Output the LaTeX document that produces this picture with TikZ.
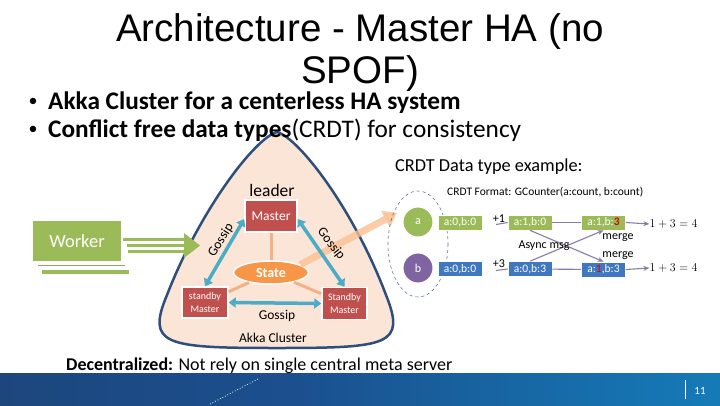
\documentclass[tikz,border=0pt]{standalone}
\usepackage{fontspec}
\setmainfont{Carlito}
\newfontfamily\titlefont{Liberation Sans}
\usetikzlibrary{arrows.meta,shapes.geometric}
\definecolor{mred}{HTML}{C0504D}
\definecolor{morange}{HTML}{F79646}
\definecolor{lorange}{HTML}{F4B183}
\definecolor{borange}{HTML}{FAC090}
\definecolor{gteal}{HTML}{4BACC6}
\definecolor{peach}{HTML}{FBE5D6}
\definecolor{blobline}{HTML}{2E4F7C}
\definecolor{wgreen}{HTML}{9BBB59}
\definecolor{cblue}{HTML}{3F78C0}
\definecolor{cpurple}{HTML}{8064A2}
\definecolor{pline}{HTML}{8A7CA8}
\definecolor{barL}{HTML}{1F3B68}
\definecolor{barM}{HTML}{1B4F8E}
\definecolor{barR}{HTML}{0FA0DA}
\pgfdeclarehorizontalshading{barshade}{100bp}{color(0bp)=(barL); color(45bp)=(barM); color(100bp)=(barR)}
\tikzset{
  mbox/.style={rectangle, fill=mred, draw=white, line width=1.5pt, text=white, inner sep=0pt, font=\fontsize{13.5}{15}\selectfont},
  gos/.style={gteal, line width=3.5pt, {Triangle[width=10pt,length=7pt]}-{Triangle[width=10pt,length=7pt]}},
  olink/.style={lorange, line width=3pt},
  gtext/.style={font=\fontsize{13.5}{15}\selectfont, inner sep=1pt},
  cbox/.style={rectangle, minimum width=44pt, minimum height=15pt, inner sep=0pt, text=white, font=\fontsize{11.5}{13}\selectfont, draw=white, line width=0.6pt},
  pl/.style={pline, line width=1.1pt},
  pla/.style={pline, line width=1.1pt, -{Stealth[length=6pt,width=5pt]}},
  ctext/.style={font=\fontsize{12}{13}\selectfont, inner sep=0pt},
}
\begin{document}
\begin{tikzpicture}[x=1pt,y=-1pt]
\useasboundingbox (0,0) rectangle (720,405);
\fill[white] (0,0) rectangle (720,405);
% bottom bar
\shade[shading=barshade] (0,373) rectangle (720,405);
\draw[white, line width=0.8pt, dotted] (210,404) -- (258,379);
\draw[white, line width=0.6pt] (685,380) -- (685,399);
\node[text=white, font=\fontsize{11}{13}\selectfont] (pg) at (700,391) {11};
% title
\node[font=\titlefont\fontsize{38.5}{40}\selectfont, anchor=base, inner sep=0pt] (t1) at (360,41.5) {Architecture - Master HA (no};
\node[font=\titlefont\fontsize{38.5}{40}\selectfont, anchor=base, inner sep=0pt] (t2) at (360,83) {SPOF)};
% cluster blob
\draw[fill=peach, draw=blobline, line width=2.5pt] (277,132) .. controls (255,138) and (200,210) .. (167,295) .. controls (146,345) and (165,348) .. (277,348) .. controls (389,348) and (406,345) .. (386,295) .. controls (354,210) and (299,138) .. (277,132) -- cycle;
% bullets
\node[font=\fontsize{18}{20}\selectfont, inner sep=0pt] (b1d) at (33,102) {•};
\node[font=\bfseries\fontsize{25.3}{27}\selectfont, anchor=base west, inner sep=0pt] (b1) at (48,109) {Akka Cluster for a centerless HA system};
\node[font=\fontsize{18}{20}\selectfont, inner sep=0pt] (b2d) at (33,130) {•};
\node[font=\fontsize{25.3}{27}\selectfont, anchor=base west, inner sep=0pt] (b2) at (48,137) {\textbf{Conflict free data types}(CRDT) for consistency};
% state and big orange arrow
\node[ellipse, fill=morange, draw=white, line width=1.5pt, minimum width=75pt, minimum height=23pt, inner sep=0pt, text=white, font=\bfseries\fontsize{14}{16}\selectfont] (st) at (271,272.5) {State};
\coordinate (oa) at (397,213);
\draw[borange, opacity=0.8, line width=7pt, -{Triangle[width=18pt,length=13pt]}] (st.15) -- (oa);
% masters
\node[font=\fontsize{17.5}{19}\selectfont, inner sep=0pt] (ld) at (272,190) {leader};
\node[mbox, minimum width=52pt, minimum height=32pt] (m) at (271,216) {Master};
\node[mbox, minimum width=46pt, minimum height=31pt, align=center, font=\fontsize{10}{13}\selectfont] (sb1) at (205,302.5) {standby\\Master};
\node[mbox, minimum width=45pt, minimum height=32pt, align=center, font=\fontsize{10}{13}\selectfont] (sb2) at (344.5,303.5) {Standby\\Master};
\draw[olink] (m.south) -- (st.north);
\draw[olink] (st) -- (sb1);
\draw[olink] (st) -- (sb2);
\draw[gos] ([yshift=-3pt]m.west) -- (sb1.north);
\draw[gos] ([yshift=-3pt]m.east) -- (sb2.north);
\draw[gos] (sb1.east) -- (sb2.west);
\node[gtext, rotate=58] (gl1) at (221,240) {Gossip};
\node[gtext, rotate=-52] (gl2) at (331,244) {Gossip};
\node[gtext] (gl3) at (277,316) {Gossip};
\node[font=\fontsize{13.5}{15}\selectfont] (ak) at (273,338) {Akka Cluster};
% worker
\node[rectangle, fill=wgreen, minimum width=88pt, minimum height=40pt, text=white, font=\fontsize{18.5}{20}\selectfont] (w) at (77,241) {Worker};
\draw[gray!40!wgreen, line width=0.8pt] (38,265) -- (125,265);
\draw[wgreen, line width=3.5pt] (42,272) -- (129,272);
\coordinate (wa1) at (123,239.5);
\coordinate (wa2) at (127,245.5);
\coordinate (wa3) at (128,251.5);
\coordinate (wh) at (200,245.5);
\draw[wgreen, line width=3.5pt] (wa1) -- (186,239.5);
\draw[wgreen, line width=3.5pt] (wa2) -- (186,245.5);
\draw[wgreen, line width=3.5pt] (wa3) -- (186,251.5);
\fill[wgreen] (184,233) -- (wh) -- (184,258) -- cycle;
% CRDT example
\node[font=\fontsize{18.3}{20}\selectfont, anchor=west, inner sep=0pt] (ce) at (395,167) {CRDT Data type example:};
\node[ctext, font=\fontsize{11.5}{13}\selectfont, anchor=west] (cf) at (447,192) {CRDT Format: GCounter(a:count, b:count)};
\draw[blobline!80, dashed, line width=0.6pt] (418,244) ellipse [x radius=30, y radius=53];
\node[circle, fill=wgreen, draw=white, line width=1pt, minimum size=30pt, inner sep=0pt, text=white, font=\fontsize{12}{13}\selectfont] (ca) at (418,222) {a};
\node[circle, fill=cpurple, draw=white, line width=1pt, minimum size=30pt, inner sep=0pt, text=white, font=\fontsize{12}{13}\selectfont] (cb) at (418,268) {b};
\node[cbox, fill=wgreen] (g1) at (460,222.5) {a:0,b:0};
\node[cbox, fill=wgreen] (g2) at (530,222.5) {a:1,b:0};
\node[cbox, fill=wgreen] (g3) at (603.5,222.5) {a:1,b:\textcolor{red!85!black}{\textbf{3}}};
\node[cbox, fill=cblue] (bb1) at (460,269) {a:0,b:0};
\node[cbox, fill=cblue] (bb2) at (530,269) {a:0,b:3};
\node[cbox, fill=cblue] (bb3) at (603.5,269.5) {a:\textcolor{red!85!black}{1},b:3};
\coordinate (p1) at (496,224.5);
\coordinate (p3) at (496,270.5);
\node[ctext] (pl1) at (499,218.5) {+1};
\node[ctext] (pl3) at (499,264) {+3};
\draw[pl] (p1) -- (g2.west);
\draw[pl] (p3) -- (bb2.west);
\draw[pl] (g2) -- (g3);
\draw[pl] (bb2) -- (bb3);
\draw[pla] (g2.south) -- (bb3.north);
\draw[pla] (bb2.north) -- (g3.south);
\node[ctext] (am) at (544,245.5) {Async msg};
\node[ctext] (mg1) at (618,237.5) {merge};
\node[ctext] (mg2) at (618,256) {merge};
\node[font=\fontsize{12}{13}\selectfont, inner sep=0pt] (r1) at (673.5,224) {$1+3=4$};
\node[font=\fontsize{12}{13}\selectfont, inner sep=0pt] (r2) at (673.5,268) {$1+3=4$};
\draw[pla] (g3.east) -- (r1.west);
\draw[pla] (bb3.east) -- (r2.west);
% footer text
\node[font=\fontsize{18}{20}\selectfont, anchor=base west, inner sep=0pt] (dc) at (66,370) {\textbf{Decentralized:} Not rely on single central meta server};
\end{tikzpicture}
\end{document}
